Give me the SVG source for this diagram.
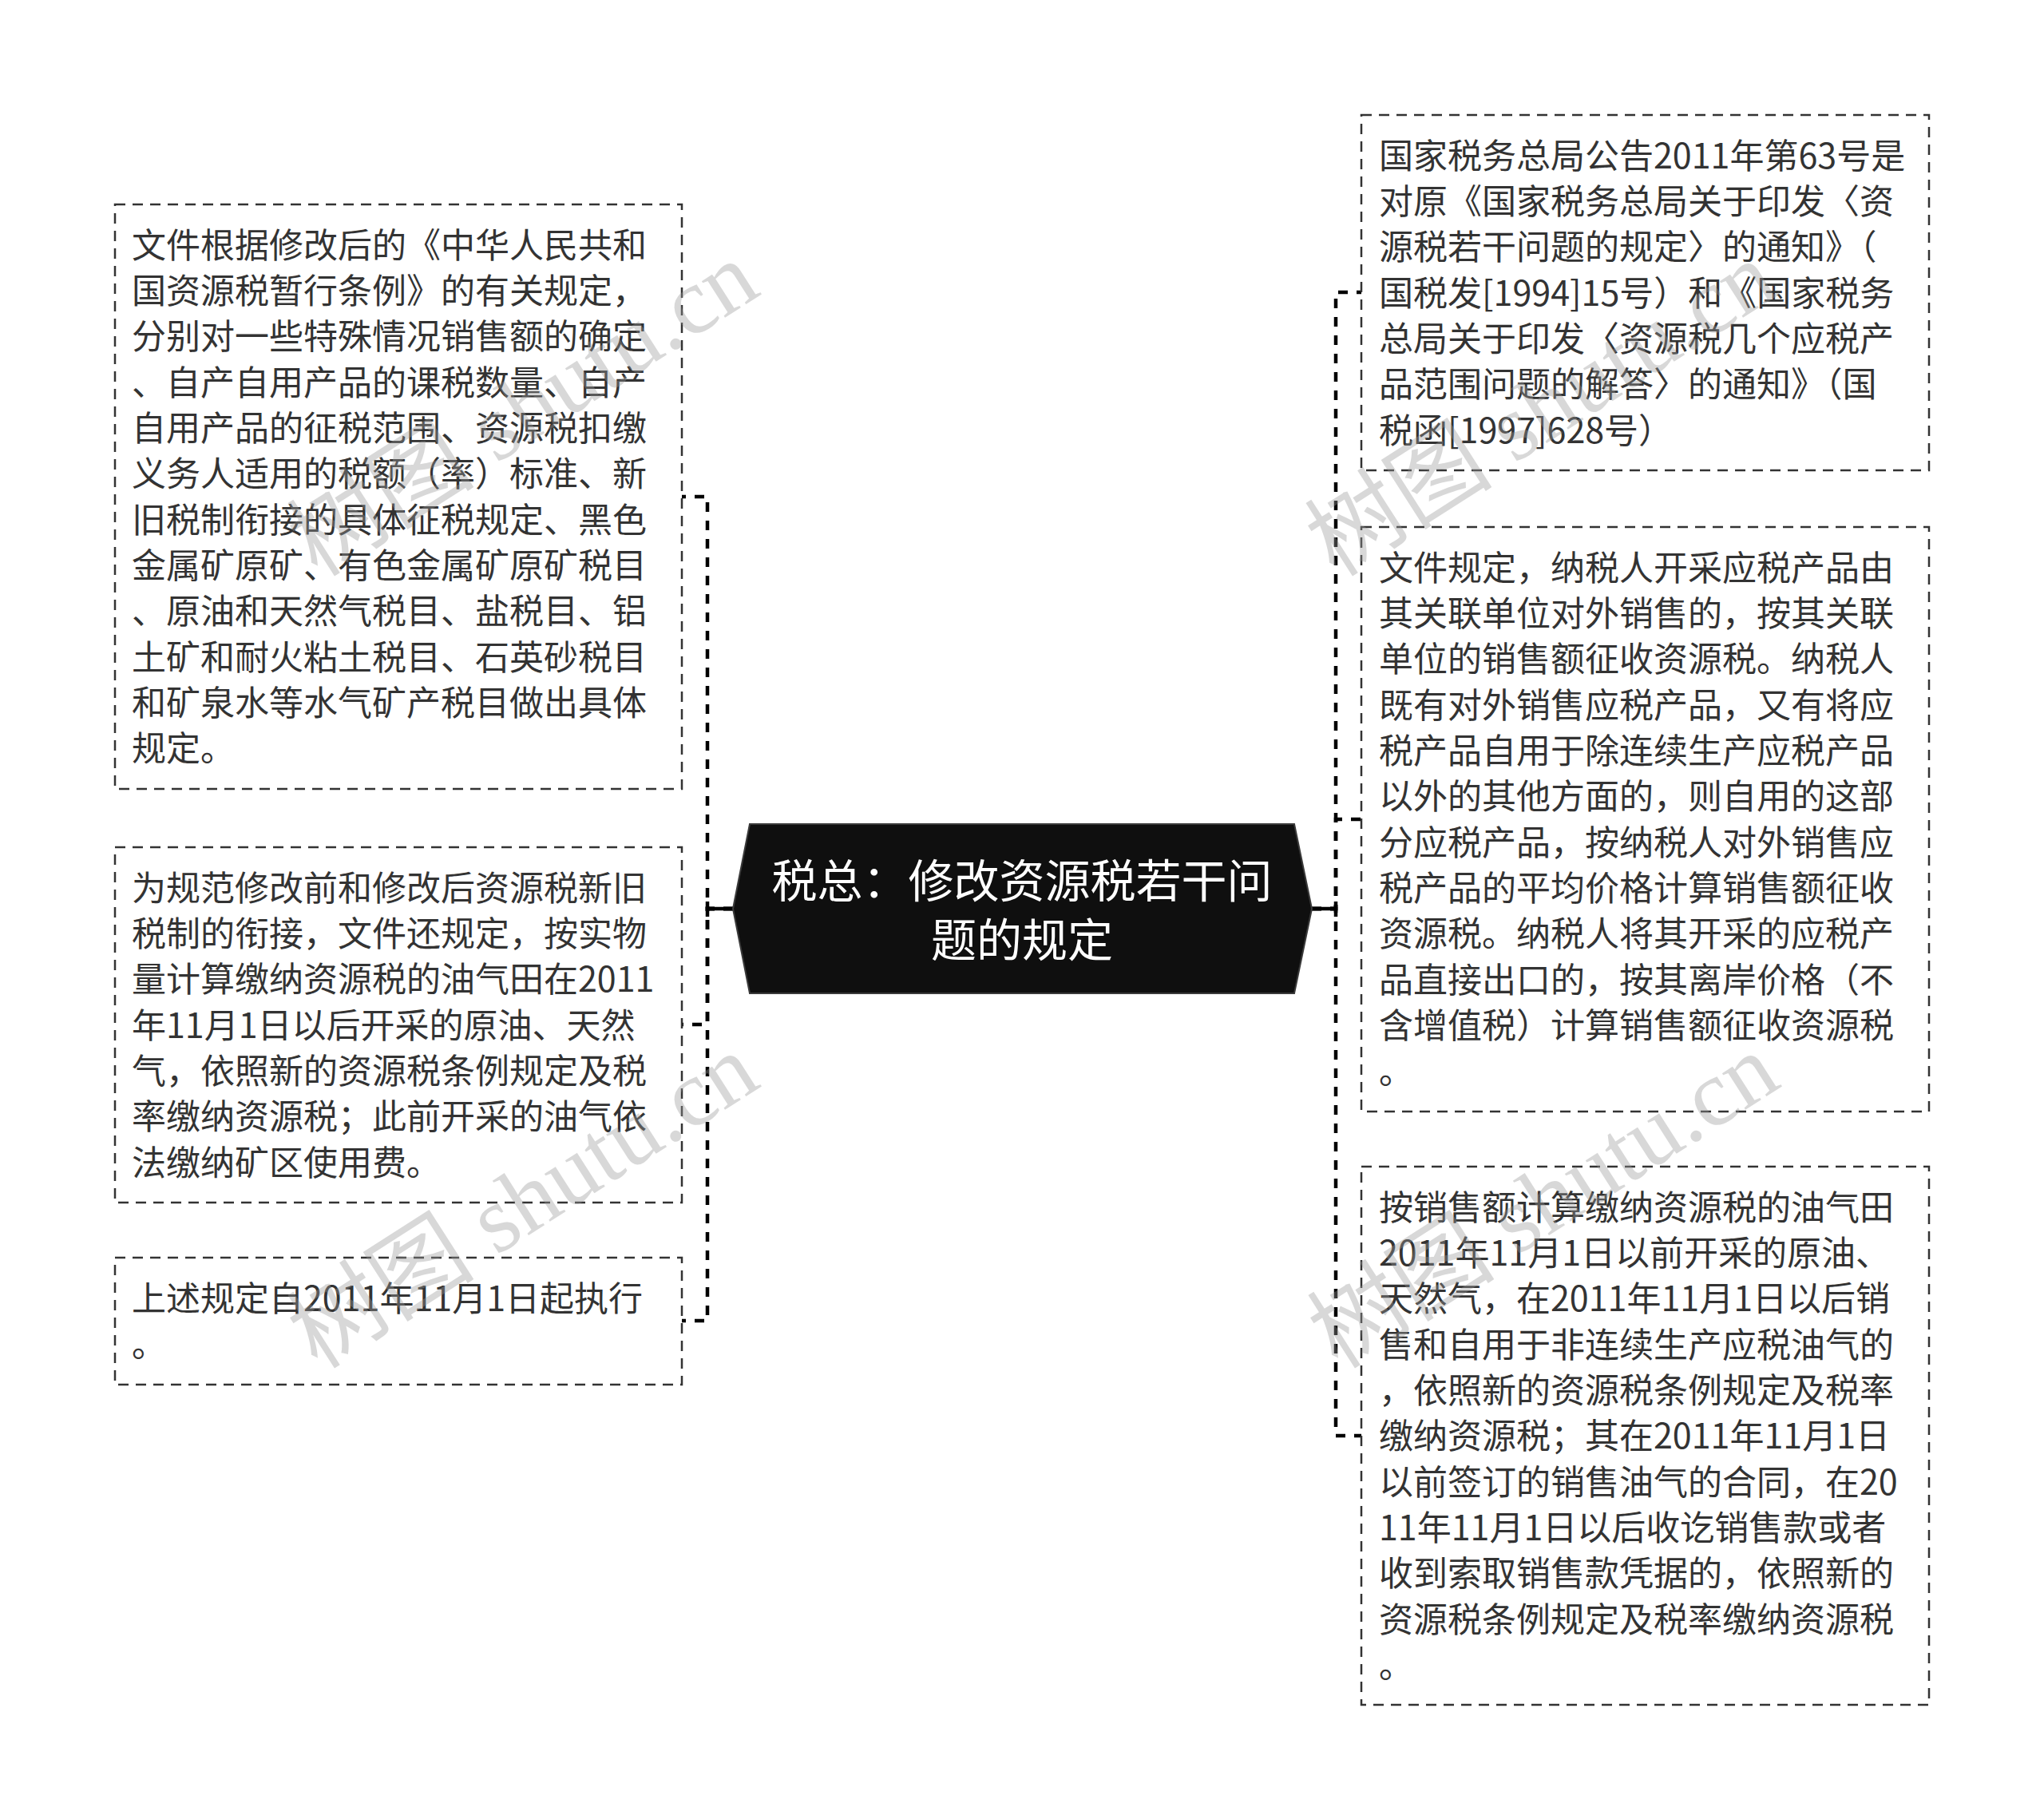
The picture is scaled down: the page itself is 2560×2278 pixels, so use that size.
<svg xmlns="http://www.w3.org/2000/svg" width="2560" height="2278" viewBox="0 0 2560 2278">
<style>
.box{fill:#fff;stroke:#333;stroke-width:2.5;stroke-dasharray:13 9}
.t{font-family:"Noto Sans CJK SC","Noto Sans",sans-serif;font-size:43px;fill:#333}
.ct{font-family:"Noto Sans CJK SC","Noto Sans",sans-serif;font-size:57px;fill:#fff;text-anchor:middle}
.con{fill:none;stroke:#000;stroke-width:4.5;stroke-dasharray:12 11}
.solid{fill:none;stroke:#000;stroke-width:4.5}
.wm{font-family:"Liberation Serif","Noto Sans CJK SC",serif;font-size:118px;fill:#999;fill-opacity:0.38;text-anchor:middle}
</style>
<rect width="2560" height="2278" fill="#fff"/>
<g id="connectors">
<path class="con" d="M918 1138 H886 V622 H854"/>
<path class="con" d="M918 1138 H886 V1283 H854"/>
<path class="con" d="M918 1138 H886 V1654 H854"/>
<path class="con" d="M1643 1138 H1673 V366 H1705"/>
<path class="con" d="M1643 1138 H1673 V1026 H1705"/>
<path class="con" d="M1643 1138 H1673 V1798 H1705"/>
<path class="solid" d="M918 1138 H886 M886 1129 V1148"/>
<path class="solid" d="M1643 1138 H1673 M1673 1129 V1148"/>
</g>
<g id="center">
<polygon points="939,1032 1621,1032 1643,1138 1621,1244 939,1244 918,1138" fill="#0f0f0f" stroke="#3a3a3a" stroke-width="2"/>
<text class="ct" x="1280" y="1124">税总：修改资源税若干问</text>
<text class="ct" x="1280" y="1198">题的规定</text>
</g>
<g id="left1">
<rect class="box" x="144" y="256" width="710" height="732"/>
<text class="t" x="165" y="323">文件根据修改后的《中华人民共和</text>
<text class="t" x="165" y="380">国资源税暂行条例》的有关规定，</text>
<text class="t" x="165" y="437">分别对一些特殊情况销售额的确定</text>
<text class="t" x="165" y="495">、自产自用产品的课税数量、自产</text>
<text class="t" x="165" y="552">自用产品的征税范围、资源税扣缴</text>
<text class="t" x="165" y="609">义务人适用的税额（率）标准、新</text>
<text class="t" x="165" y="667">旧税制衔接的具体征税规定、黑色</text>
<text class="t" x="165" y="724">金属矿原矿、有色金属矿原矿税目</text>
<text class="t" x="165" y="781">、原油和天然气税目、盐税目、铝</text>
<text class="t" x="165" y="839">土矿和耐火粘土税目、石英砂税目</text>
<text class="t" x="165" y="896">和矿泉水等水气矿产税目做出具体</text>
<text class="t" x="165" y="953">规定。</text>
</g>
<g id="left2">
<rect class="box" x="144" y="1061" width="710" height="445"/>
<text class="t" x="165" y="1128">为规范修改前和修改后资源税新旧</text>
<text class="t" x="165" y="1185">税制的衔接，文件还规定，按实物</text>
<text class="t" x="165" y="1242">量计算缴纳资源税的油气田在2011</text>
<text class="t" x="165" y="1300">年11月1日以后开采的原油、天然</text>
<text class="t" x="165" y="1357">气，依照新的资源税条例规定及税</text>
<text class="t" x="165" y="1414">率缴纳资源税；此前开采的油气依</text>
<text class="t" x="165" y="1472">法缴纳矿区使用费。</text>
</g>
<g id="left3">
<rect class="box" x="144" y="1575" width="710" height="159"/>
<text class="t" x="165" y="1642">上述规定自2011年11月1日起执行</text>
<text class="t" x="165" y="1699">。</text>
</g>
<g id="right1">
<rect class="box" x="1705" y="144" width="711" height="445"/>
<text class="t" x="1727" y="211">国家税务总局公告2011年第63号是</text>
<text class="t" x="1727" y="268">对原《国家税务总局关于印发〈资</text>
<text class="t" x="1727" y="325">源税若干问题的规定〉的通知》（</text>
<text class="t" x="1727" y="383">国税发[1994]15号）和《国家税务</text>
<text class="t" x="1727" y="440">总局关于印发〈资源税几个应税产</text>
<text class="t" x="1727" y="497">品范围问题的解答〉的通知》（国</text>
<text class="t" x="1727" y="555">税函[1997]628号）</text>
</g>
<g id="right2">
<rect class="box" x="1705" y="660" width="711" height="732"/>
<text class="t" x="1727" y="727">文件规定，纳税人开采应税产品由</text>
<text class="t" x="1727" y="784">其关联单位对外销售的，按其关联</text>
<text class="t" x="1727" y="841">单位的销售额征收资源税。纳税人</text>
<text class="t" x="1727" y="899">既有对外销售应税产品，又有将应</text>
<text class="t" x="1727" y="956">税产品自用于除连续生产应税产品</text>
<text class="t" x="1727" y="1013">以外的其他方面的，则自用的这部</text>
<text class="t" x="1727" y="1071">分应税产品，按纳税人对外销售应</text>
<text class="t" x="1727" y="1128">税产品的平均价格计算销售额征收</text>
<text class="t" x="1727" y="1185">资源税。纳税人将其开采的应税产</text>
<text class="t" x="1727" y="1243">品直接出口的，按其离岸价格（不</text>
<text class="t" x="1727" y="1300">含增值税）计算销售额征收资源税</text>
<text class="t" x="1727" y="1357">。</text>
</g>
<g id="right3">
<rect class="box" x="1705" y="1461" width="711" height="674"/>
<text class="t" x="1727" y="1528">按销售额计算缴纳资源税的油气田</text>
<text class="t" x="1727" y="1585">2011年11月1日以前开采的原油、</text>
<text class="t" x="1727" y="1642">天然气，在2011年11月1日以后销</text>
<text class="t" x="1727" y="1700">售和自用于非连续生产应税油气的</text>
<text class="t" x="1727" y="1757">，依照新的资源税条例规定及税率</text>
<text class="t" x="1727" y="1814">缴纳资源税；其在2011年11月1日</text>
<text class="t" x="1727" y="1872">以前签订的销售油气的合同，在20</text>
<text class="t" x="1727" y="1929">11年11月1日以后收讫销售款或者</text>
<text class="t" x="1727" y="1986">收到索取销售款凭据的，依照新的</text>
<text class="t" x="1727" y="2044">资源税条例规定及税率缴纳资源税</text>
<text class="t" x="1727" y="2101">。</text>
</g>
<g id="watermarks">
<text class="wm" x="655" y="552" transform="rotate(-32.6 655 512)">树图 shutu.cn</text>
<text class="wm" x="655" y="1544" transform="rotate(-32.6 655 1504)">树图 shutu.cn</text>
<text class="wm" x="1930" y="552" transform="rotate(-32.6 1930 512)">树图 shutu.cn</text>
<text class="wm" x="1933" y="1544" transform="rotate(-32.6 1933 1504)">树图 shutu.cn</text>
</g>
</svg>
